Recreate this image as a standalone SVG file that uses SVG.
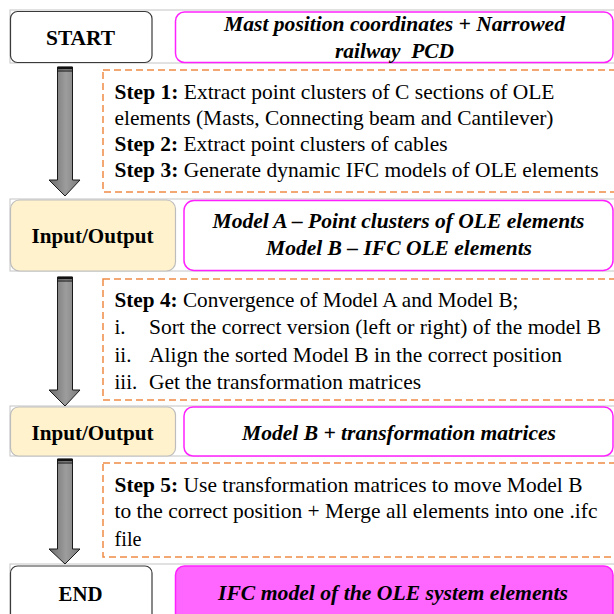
<svg xmlns="http://www.w3.org/2000/svg" width="614" height="614" viewBox="0 0 614 614">
  <defs>
    <linearGradient id="shaft" x1="0" y1="0" x2="1" y2="0">
      <stop offset="0" stop-color="#6c6c6c"/>
      <stop offset="0.55" stop-color="#9d9d9d"/>
      <stop offset="1" stop-color="#7a7a7a"/>
    </linearGradient>
    <style>
      .frame { fill: none; stroke: #c4c4c4; stroke-width: 1; }
      .term { fill: #ffffff; stroke: #3a3a3a; stroke-width: 1.2; }
      .io { fill: #fff2cc; stroke: #bdbdbd; stroke-width: 1.2; }
      .data { fill: #ffffff; stroke: #ff22ff; stroke-width: 1.5; }
      .data-fill { fill: #ff66ff; stroke: #ff22ff; stroke-width: 1.5; }
      .steps { fill: #ffffff; stroke: #ef8a45; stroke-width: 1.5; stroke-dasharray: 7 4; }
      .arrow { fill: url(#shaft); stroke: #1a1a1a; stroke-width: 1; }
      .band { stroke: #111; }
    </style>
  </defs>

  <!-- row outlines -->
  <g id="frames">
    <rect class="frame" x="10" y="10" width="606" height="53"/>
    <rect class="frame" x="10" y="199" width="606" height="72"/>
    <rect class="frame" x="10" y="406" width="606" height="50"/>
    <rect class="frame" x="10" y="564" width="606" height="60"/>
  </g>

  <!-- flow arrows -->
  <g id="connectors">
    <g id="arrow1">
      <path class="arrow" d="M57.5,67 H72.5 V180 H80 L65,196 L49,180 H57.5 Z"/>
      <line class="band" x1="57.5" y1="68" x2="72.5" y2="68" stroke-width="2.5"/>
      <line class="band" x1="57.5" y1="71" x2="72.5" y2="71" stroke-width="1"/>
    </g>
    <g id="arrow2">
      <path class="arrow" d="M57.5,277 H72.5 V390 H80 L65,406 L49,390 H57.5 Z"/>
      <line class="band" x1="57.5" y1="278" x2="72.5" y2="278" stroke-width="2.5"/>
      <line class="band" x1="57.5" y1="281" x2="72.5" y2="281" stroke-width="1"/>
    </g>
    <g id="arrow3">
      <path class="arrow" d="M57.5,459 H72.5 V549 H80 L65,564 L49,549 H57.5 Z"/>
      <line class="band" x1="57.5" y1="460" x2="72.5" y2="460" stroke-width="2.5"/>
      <line class="band" x1="57.5" y1="463" x2="72.5" y2="463" stroke-width="1"/>
    </g>
  </g>

  <g font-family="'Liberation Serif', 'Times New Roman', serif" fill="#000">
  <g id="start">
    <rect class="term" x="10.5" y="11.5" width="141.5" height="51" rx="7"/>
    <text x="46" y="45" font-size="22" font-weight="bold" textLength="69" lengthAdjust="spacingAndGlyphs">START</text>
  </g>

  <g id="input-data" font-size="22" font-weight="bold" font-style="italic">
    <rect class="data" x="175.5" y="12" width="437.5" height="50.5" rx="9"/>
    <text x="224" y="31" textLength="341" lengthAdjust="spacingAndGlyphs">Mast position coordinates + Narrowed</text>
    <text x="335" y="58" textLength="119" lengthAdjust="spacingAndGlyphs" xml:space="preserve">railway  PCD</text>
  </g>

  <g id="steps-1-3" font-size="21">
    <rect class="steps" x="103" y="70" width="515" height="122"/>
    <text x="114.5" y="99" textLength="440" lengthAdjust="spacingAndGlyphs"><tspan font-weight="bold">Step 1:</tspan> Extract point clusters of C sections of OLE</text>
    <text x="114.5" y="124.5" textLength="439" lengthAdjust="spacingAndGlyphs">elements (Masts, Connecting beam and Cantilever)</text>
    <text x="114.5" y="150.5" textLength="333" lengthAdjust="spacingAndGlyphs"><tspan font-weight="bold">Step 2:</tspan> Extract point clusters of cables</text>
    <text x="114.5" y="177" textLength="484" lengthAdjust="spacingAndGlyphs"><tspan font-weight="bold">Step 3:</tspan> Generate dynamic IFC models of OLE elements</text>
  </g>

  <g id="io-1">
    <rect class="io" x="10.5" y="200" width="165" height="71" rx="9"/>
    <text x="31.5" y="243" font-size="22" font-weight="bold" textLength="122" lengthAdjust="spacingAndGlyphs">Input/Output</text>
  </g>

  <g id="models-a-b" font-size="22" font-weight="bold" font-style="italic">
    <rect class="data" x="184" y="200.5" width="429" height="70" rx="10"/>
    <text x="212.5" y="228" textLength="372" lengthAdjust="spacingAndGlyphs">Model A – Point clusters of OLE elements</text>
    <text x="266" y="255" textLength="266" lengthAdjust="spacingAndGlyphs">Model B – IFC OLE elements</text>
  </g>

  <g id="step-4" font-size="21">
    <rect class="steps" x="103" y="279" width="515" height="121"/>
    <text x="114.5" y="306.5" textLength="404" lengthAdjust="spacingAndGlyphs"><tspan font-weight="bold">Step 4:</tspan> Convergence of Model A and Model B;</text>
    <text x="114.5" y="334">i.</text>
    <text x="149" y="334" textLength="452" lengthAdjust="spacingAndGlyphs">Sort the correct version (left or right) of the model B</text>
    <text x="114.5" y="361.5">ii.</text>
    <text x="149" y="361.5" textLength="413" lengthAdjust="spacingAndGlyphs">Align the sorted Model B in the correct position</text>
    <text x="114.5" y="388.5">iii.</text>
    <text x="149" y="388.5" textLength="272" lengthAdjust="spacingAndGlyphs">Get the transformation matrices</text>
  </g>

  <g id="io-2">
    <rect class="io" x="10.5" y="407" width="165" height="49" rx="8"/>
    <text x="31.5" y="440" font-size="22" font-weight="bold" textLength="122" lengthAdjust="spacingAndGlyphs">Input/Output</text>
  </g>

  <g id="model-b-matrices" font-size="22" font-weight="bold" font-style="italic">
    <rect class="data" x="184" y="407" width="429" height="49" rx="9"/>
    <text x="242" y="440" textLength="314" lengthAdjust="spacingAndGlyphs">Model B + transformation matrices</text>
  </g>

  <g id="step-5" font-size="21">
    <rect class="steps" x="103" y="463" width="515" height="94"/>
    <text x="114.5" y="491.5" textLength="468" lengthAdjust="spacingAndGlyphs"><tspan font-weight="bold">Step 5:</tspan> Use transformation matrices to move Model B</text>
    <text x="114.5" y="518" textLength="483" lengthAdjust="spacingAndGlyphs">to the correct position + Merge all elements into one .ifc</text>
    <text x="114.5" y="545.5" textLength="27" lengthAdjust="spacingAndGlyphs">file</text>
  </g>

  <g id="end">
    <rect class="term" x="10.5" y="566" width="141.5" height="56" rx="7"/>
    <text x="58.5" y="601" font-size="22" font-weight="bold" textLength="44" lengthAdjust="spacingAndGlyphs">END</text>
  </g>

  <g id="output-ifc" font-size="22" font-weight="bold" font-style="italic">
    <rect class="data-fill" x="175.5" y="566" width="437.5" height="56" rx="9"/>
    <text x="218" y="600" textLength="350" lengthAdjust="spacingAndGlyphs">IFC model of the OLE system elements</text>
  </g>
  </g>
</svg>
